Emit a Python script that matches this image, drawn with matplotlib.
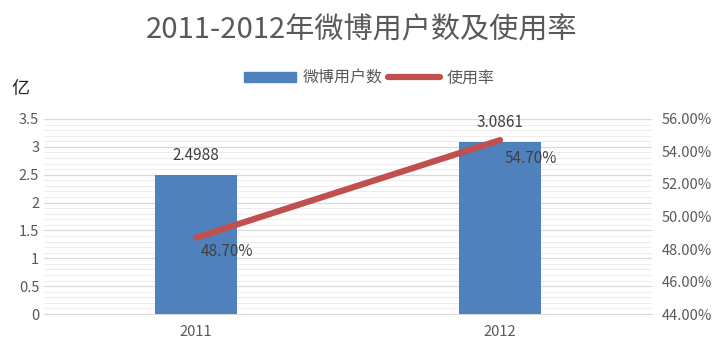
import matplotlib.pyplot as plt
import numpy as np
from matplotlib.ticker import MultipleLocator, FuncFormatter
from matplotlib.patches import Patch
from matplotlib.lines import Line2D

plt.rcParams['font.family'] = ['Noto Sans CJK SC', 'DejaVu Sans']

years = ['2011', '2012']
users = [2.4988, 3.0861]          # 亿
rate = [48.70, 54.70]             # %
user_labels = ['2.4988', '3.0861']
rate_labels = ['48.70%', '54.70%']

grey = '#595959'
fig = plt.figure(figsize=(7.24, 3.57), dpi=100)
ax = fig.add_axes([0.0608, 0.1204, 0.8398, 0.5463])
ax2 = ax.twinx()

x = np.arange(len(years))
ax.bar(x, users, width=0.27, color='#4f81bd', zorder=3)
ax.set_xlim(-0.5, 1.5)
ax.set_ylim(0, 3.5)
ax.yaxis.set_major_locator(MultipleLocator(0.5))
ax.yaxis.set_minor_locator(MultipleLocator(0.1))
ax.yaxis.set_major_formatter(FuncFormatter(lambda v, p: f'{v:g}'))
ax.grid(axis='y', which='major', color='#d9d9d9', lw=0.9, zorder=0)
ax.grid(axis='y', which='minor', color='#ededed', lw=0.7, zorder=0)
ax.set_xticks(x)
ax.set_xticklabels(years)
ax.tick_params(axis='both', which='both', length=0, colors=grey, labelsize=10.5)
ax.tick_params(axis='x', pad=8)
for s in ['top', 'right', 'left']:
    ax.spines[s].set_visible(False)
ax.spines['bottom'].set_color('#d9d9d9')

ax2.plot(x, rate, color='#c0504d', lw=4.5, solid_capstyle='round', zorder=4)
ax2.set_ylim(44, 56)
ax2.yaxis.set_major_locator(MultipleLocator(2))
ax2.yaxis.set_major_formatter(FuncFormatter(lambda v, p: f'{v:.2f}%'))
ax2.tick_params(axis='y', length=0, colors=grey, labelsize=10.5, pad=7)
for s in ax2.spines.values():
    s.set_visible(False)

for i in range(len(years)):
    ax.annotate(user_labels[i], (x[i], users[i]), xytext=(0, 8), textcoords='offset points',
                ha='center', va='bottom', fontsize=11, color='#404040')
for i, dy in enumerate([-4, -7]):
    ax2.annotate(rate_labels[i], (x[i], rate[i]), xytext=(22, dy), textcoords='offset points',
                 ha='center', va='top', fontsize=11, color='#404040')

fig.text(0.5, 0.915, '2011-2012年微博用户数及使用率', ha='center', va='center',
         fontsize=21, color=grey)
fig.text(0.028, 0.75, '亿', ha='center', va='center', fontsize=13, color='#222222')

handles = [Patch(color='#4f81bd'), Line2D([0], [0], color='#c0504d', lw=4.5, solid_capstyle='round')]
fig.legend(handles, ['微博用户数', '使用率'], loc='center', bbox_to_anchor=(0.51, 0.782), ncol=2,
           frameon=False, fontsize=11.5, labelcolor=grey, handlelength=3.3, handleheight=0.6,
           columnspacing=0.3, handletextpad=0.4)

fig.savefig('out.png', dpi=100)
